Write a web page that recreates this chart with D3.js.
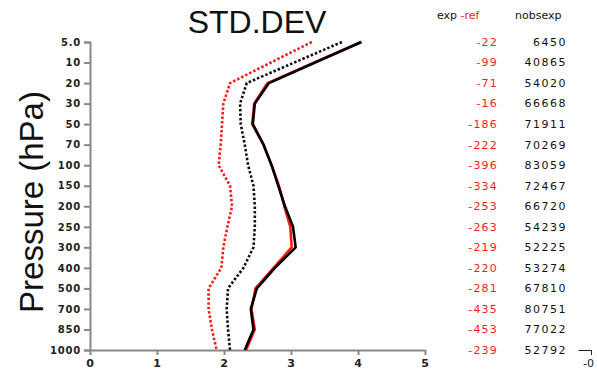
<!DOCTYPE html>
<html><head><meta charset="utf-8">
<script src="https://cdn.jsdelivr.net/npm/d3@7/dist/d3.min.js"></script>
<style>
body{margin:0;background:#fff;}
svg{display:block;}
</style></head>
<body>
<svg id="chart" width="597" height="377"></svg>
<script>
const levels = ["5.0","10","20","30","50","70","100","150","200","250","300","400","500","700","850","1000"];
const expSolid  = [4.05,3.36,2.67,2.46,2.43,2.59,2.71,2.81,2.91,3.03,3.07,2.76,2.49,2.40,2.44,2.31];
const refSolid  = [4.05,3.35,2.65,2.45,2.42,2.59,2.71,2.82,2.90,2.99,3.01,2.74,2.47,2.41,2.46,2.33];
const expDotted = [3.76,3.05,2.34,2.24,2.25,2.31,2.36,2.44,2.46,2.46,2.44,2.29,2.06,2.04,2.06,2.09];
const refDotted = [3.31,2.70,2.09,1.99,1.97,1.95,1.92,2.09,2.12,2.05,1.99,1.96,1.77,1.77,1.82,1.89];
const expMinusRef = [-22,-99,-71,-16,-186,-222,-396,-334,-253,-263,-219,-220,-281,-435,-453,-239];
const nobsexp = [6450,40865,54020,66668,71911,70269,83059,72467,66720,54239,52225,53274,67810,80751,77022,52792];
const xTicks = [0,1,2,3,4,5];

const svg = d3.select("#chart");
const x = d3.scaleLinear().domain([0,5]).range([90,425]);
const y = d3.scalePoint().domain(levels).range([42,350]);

// title
svg.append("text").attr("x",257).attr("y",33).attr("text-anchor","middle")
  .attr("font-family","Liberation Sans, Arial, sans-serif").attr("font-size",32)
  .attr("fill","#111").text("STD.DEV");

// y label
svg.append("text").attr("transform","translate(43,202) rotate(-90)")
  .attr("text-anchor","middle").attr("font-family","Liberation Sans, Arial, sans-serif")
  .attr("font-size",33).attr("fill","#111").text("Pressure (hPa)");

// axes
const axisColor = "#888";
const yAxis = svg.append("g").attr("transform","translate(90,0)")
  .call(d3.axisLeft(y).tickSize(6).tickPadding(3));
const xAxis = svg.append("g").attr("transform","translate(0,350)")
  .call(d3.axisBottom(x).tickValues(xTicks).tickFormat(d3.format("d")).tickSize(5).tickPadding(4).tickSizeOuter(0));
[yAxis,xAxis].forEach(g=>{
  g.select(".domain").attr("stroke",axisColor).attr("stroke-width",2);
  g.selectAll(".tick line").attr("stroke",axisColor).attr("stroke-width",2);
  g.selectAll(".tick text").attr("font-family","DejaVu Sans, sans-serif").attr("font-weight","bold")
    .attr("font-size",10).attr("fill","#222").attr("letter-spacing","0.8px");
});
xAxis.selectAll(".tick text").attr("font-size",11);

// extra small axis at right
const x2 = d3.scaleLinear().domain([-1,0]).range([578,591]);
const xAxis2 = svg.append("g").attr("transform","translate(0,350)")
  .call(d3.axisBottom(x2).tickValues([0]).tickFormat(()=>"-0").tickSize(5).tickPadding(4).tickSizeOuter(0));
xAxis2.select(".domain").attr("stroke","#222").attr("stroke-width",1);
xAxis2.selectAll(".tick line").attr("stroke","#222").attr("stroke-width",1);
xAxis2.selectAll(".tick text").attr("font-family","DejaVu Sans, sans-serif").attr("font-size",11)
  .attr("fill","#222").attr("dx",-3);

// lines
const line = d3.line().x(d=>x(d.v)).y(d=>y(d.l));
const mk = arr => arr.map((v,i)=>({v:v,l:levels[i]}));
const series = [
  {data:refDotted, color:"#ff1a1a", dash:"2.5,2"},
  {data:expDotted, color:"#111", dash:"2.5,2"},
  {data:refSolid, color:"#ff1a1a", dash:null},
  {data:expSolid, color:"#000", dash:null}
];
series.forEach(s=>{
  svg.append("path").datum(mk(s.data)).attr("d",line).attr("fill","none")
    .attr("stroke",s.color).attr("stroke-width",2.6).attr("stroke-linejoin","round")
    .attr("stroke-dasharray",s.dash);
});

// table
const tf = "DejaVu Sans, sans-serif";
const hdr = svg.append("text").attr("x",437).attr("y",19).attr("font-family",tf).attr("font-size",11);
hdr.append("tspan").attr("fill","#111").text("exp ");
hdr.append("tspan").attr("fill","#ff1a1a").text("-ref");
svg.append("text").attr("x",515).attr("y",19).attr("font-family",tf).attr("font-size",11)
  .attr("fill","#111").text("nobsexp");
svg.append("g").selectAll("text").data(expMinusRef).join("text")
  .attr("x",498).attr("y",(d,i)=>y(levels[i])).attr("dy","0.35em").attr("text-anchor","end")
  .attr("font-family",tf).attr("font-size",11).attr("letter-spacing","1.2px").attr("fill","#ff1a1a").text(d=>d);
svg.append("g").selectAll("text").data(nobsexp).join("text")
  .attr("x",567).attr("y",(d,i)=>y(levels[i])).attr("dy","0.35em").attr("text-anchor","end")
  .attr("font-family",tf).attr("font-size",11).attr("letter-spacing","1.5px").attr("fill","#111").text(d=>d);
</script>
</body></html>
